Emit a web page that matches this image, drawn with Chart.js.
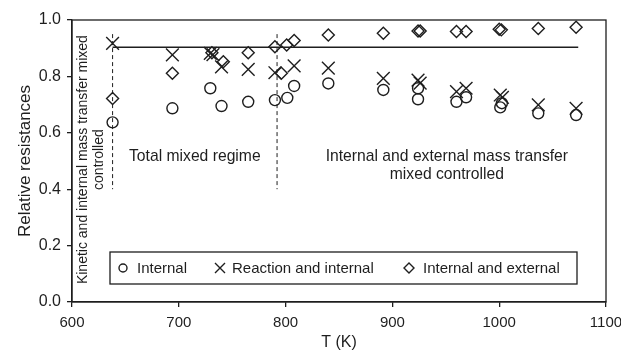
<!DOCTYPE html>
<html lang="en">
<head>
    <meta charset="UTF-8">
    <title>Relative resistances vs T</title>
    <script src="https://cdn.jsdelivr.net/npm/chart.js"></script>
    <style>
        html, body { margin: 0; padding: 0; background: #fff; }
        #wrap { width: 621px; height: 355px; }
    </style>
</head>
<body>
    <div id="wrap"><canvas id="chart" width="621" height="355"></canvas></div>

    <script>
        // Data
        const tInternal = [638, 694, 729.5, 740, 765, 790, 801.6, 808, 840, 891.5, 924, 924, 960, 969, 1001, 1002.5, 1036.6, 1072];
        const internal = [0.637, 0.687, 0.758, 0.695, 0.710, 0.716, 0.724, 0.766, 0.775, 0.752, 0.758, 0.719, 0.710, 0.726, 0.690, 0.705, 0.669, 0.663];

        const tReaction = [638, 694, 729.5, 732, 740, 765, 790, 808, 840, 891.5, 924, 926, 960, 969, 1001, 1003, 1036.6, 1072];
        const reaction = [0.917, 0.876, 0.882, 0.877, 0.834, 0.825, 0.813, 0.837, 0.829, 0.793, 0.787, 0.776, 0.746, 0.758, 0.734, 0.726, 0.699, 0.687];

        const tExternal = [638, 694, 731, 741.7, 765, 790, 796, 801, 808, 840, 891.5, 924, 926, 960, 969, 1000, 1002, 1036.6, 1072];
        const external = [0.722, 0.811, 0.884, 0.852, 0.884, 0.905, 0.811, 0.911, 0.927, 0.947, 0.953, 0.961, 0.961, 0.959, 0.959, 0.967, 0.965, 0.970, 0.974];

        const refLineT = [638, 1074];
        const refLineY = [0.903, 0.903];
        const boundaryT = [638, 792];
        const boundaryY = [0.95, 0.40];

        const xTicks = [600, 700, 800, 900, 1000, 1100];
        const yTicks = [0, 0.2, 0.4, 0.6, 0.8, 1.0];

        const ink = '#1e1e1e';
        const fontFamily = '"Liberation Sans", Arial, sans-serif';

        const pts = (xs, ys) => xs.map((x, i) => ({ x: x, y: ys[i] }));

        // region labels and legend, drawn on top of the plot
        const overlay = {
            id: 'overlay',
            afterDraw(chart) {
                const { ctx, chartArea: a, scales: { x, y } } = chart;
                ctx.save();
                // frame on top and right
                ctx.strokeStyle = ink;
                ctx.lineWidth = 1.3;
                ctx.strokeRect(a.left, a.top, a.right - a.left, a.bottom - a.top);

                ctx.fillStyle = ink;
                ctx.font = '15.7px ' + fontFamily;
                ctx.textAlign = 'center';
                ctx.textBaseline = 'middle';
                ctx.fillText('Total mixed regime', x.getPixelForValue(715), y.getPixelForValue(0.514));
                ctx.fillText('Internal and external mass transfer', x.getPixelForValue(951), y.getPixelForValue(0.514));
                ctx.fillText('mixed controlled', x.getPixelForValue(951), y.getPixelForValue(0.45));

                // rotated label
                ctx.save();
                ctx.font = '14px ' + fontFamily;
                ctx.translate(a.left + 11.5, y.getPixelForValue(0.505));
                ctx.rotate(-Math.PI / 2);
                ctx.fillText('Kinetic and internal mass transfer mixed', 0, 0);
                ctx.fillText('controlled', 0, 16);
                ctx.restore();

                // legend box
                const lx = a.left + 38, ly = a.top + 232, lw = 467, lh = 32;
                ctx.fillStyle = '#fff';
                ctx.fillRect(lx, ly, lw, lh);
                ctx.lineWidth = 1.3;
                ctx.strokeRect(lx, ly, lw, lh);
                const cy = ly + lh / 2;
                ctx.strokeStyle = ink;
                ctx.lineWidth = 1.4;
                // circle
                ctx.beginPath();
                ctx.arc(lx + 13, cy, 4, 0, Math.PI * 2);
                ctx.stroke();
                // cross
                let cx = lx + 110;
                ctx.beginPath();
                ctx.moveTo(cx - 5, cy - 5); ctx.lineTo(cx + 5, cy + 5);
                ctx.moveTo(cx + 5, cy - 5); ctx.lineTo(cx - 5, cy + 5);
                ctx.stroke();
                // diamond
                cx = lx + 299;
                ctx.beginPath();
                ctx.moveTo(cx, cy - 5); ctx.lineTo(cx + 5, cy);
                ctx.lineTo(cx, cy + 5); ctx.lineTo(cx - 5, cy);
                ctx.closePath();
                ctx.stroke();

                ctx.fillStyle = ink;
                ctx.font = '15px ' + fontFamily;
                ctx.textAlign = 'left';
                ctx.fillText('Internal', lx + 27, cy + 1);
                ctx.fillText('Reaction and internal', lx + 122, cy + 1);
                ctx.fillText('Internal and external', lx + 313, cy + 1);
                ctx.restore();
            }
        };

        const ctx = document.getElementById('chart').getContext('2d');
        const chart = new Chart(ctx, {
            type: 'scatter',
            data: {
                datasets: [
                    {
                        label: 'limit',
                        type: 'line',
                        data: pts(refLineT, refLineY),
                        borderColor: ink,
                        borderWidth: 1.5,
                        pointRadius: 0,
                        showLine: true
                    },
                    {
                        label: 'b1',
                        type: 'line',
                        data: pts([boundaryT[0], boundaryT[0]], boundaryY),
                        borderColor: ink,
                        borderWidth: 1,
                        borderDash: [4, 3],
                        pointRadius: 0,
                        showLine: true
                    },
                    {
                        label: 'b2',
                        type: 'line',
                        data: pts([boundaryT[1], boundaryT[1]], boundaryY),
                        borderColor: ink,
                        borderWidth: 1,
                        borderDash: [4, 3],
                        pointRadius: 0,
                        showLine: true
                    },
                    {
                        label: 'Internal',
                        data: pts(tInternal, internal),
                        pointStyle: 'circle',
                        pointRadius: 5.5,
                        pointBorderWidth: 1.4,
                        borderColor: ink,
                        backgroundColor: 'rgba(0,0,0,0)'
                    },
                    {
                        label: 'Reaction and internal',
                        data: pts(tReaction, reaction),
                        pointStyle: 'crossRot',
                        pointRadius: 9,
                        pointBorderWidth: 1.4,
                        borderColor: ink,
                        backgroundColor: 'rgba(0,0,0,0)'
                    },
                    {
                        label: 'Internal and external',
                        data: pts(tExternal, external),
                        pointStyle: 'rectRot',
                        pointRadius: 6,
                        pointBorderWidth: 1.4,
                        borderColor: ink,
                        backgroundColor: 'rgba(255,255,255,0)'
                    }
                ]
            },
            options: {
                responsive: false,
                animation: false,
                layout: { padding: { top: 20, right: 15, left: 0, bottom: 0 } },
                plugins: {
                    legend: { display: false },
                    tooltip: { enabled: false }
                },
                scales: {
                    x: {
                        type: 'linear',
                        min: 600,
                        max: 1100,
                        afterBuildTicks: s => { s.ticks = xTicks.map(v => ({ value: v })); },
                        afterFit: s => { s.height = 53; s.paddingLeft = 0; s.paddingRight = 0; },
                        grid: { display: true, drawOnChartArea: false, drawTicks: true, tickLength: 5, color: ink, lineWidth: 1.3 },
                        border: { display: true, color: ink, width: 1.3 },
                        ticks: { color: ink, font: { family: fontFamily, size: 15 }, padding: 7, maxRotation: 0, callback: v => String(v) },
                        title: { display: true, text: 'T (K)', color: ink, font: { family: fontFamily, size: 16 }, padding: { top: 0, bottom: 3 } }
                    },
                    y: {
                        min: 0,
                        max: 1,
                        afterBuildTicks: s => { s.ticks = yTicks.map(v => ({ value: v })); },
                        afterFit: s => { s.width = 72; s.paddingTop = 0; s.paddingBottom = 0; },
                        grid: { display: true, drawOnChartArea: false, drawTicks: true, tickLength: 5, color: ink, lineWidth: 1.3 },
                        border: { display: true, color: ink, width: 1.3 },
                        ticks: { color: ink, font: { family: fontFamily, size: 16 }, padding: 6, callback: v => v.toFixed(1) },
                        title: { display: true, text: 'Relative resistances', color: ink, font: { family: fontFamily, size: 17 }, padding: { top: 15, bottom: 0 } }
                    }
                }
            },
            plugins: [overlay]
        });
    </script>
</body>
</html>
